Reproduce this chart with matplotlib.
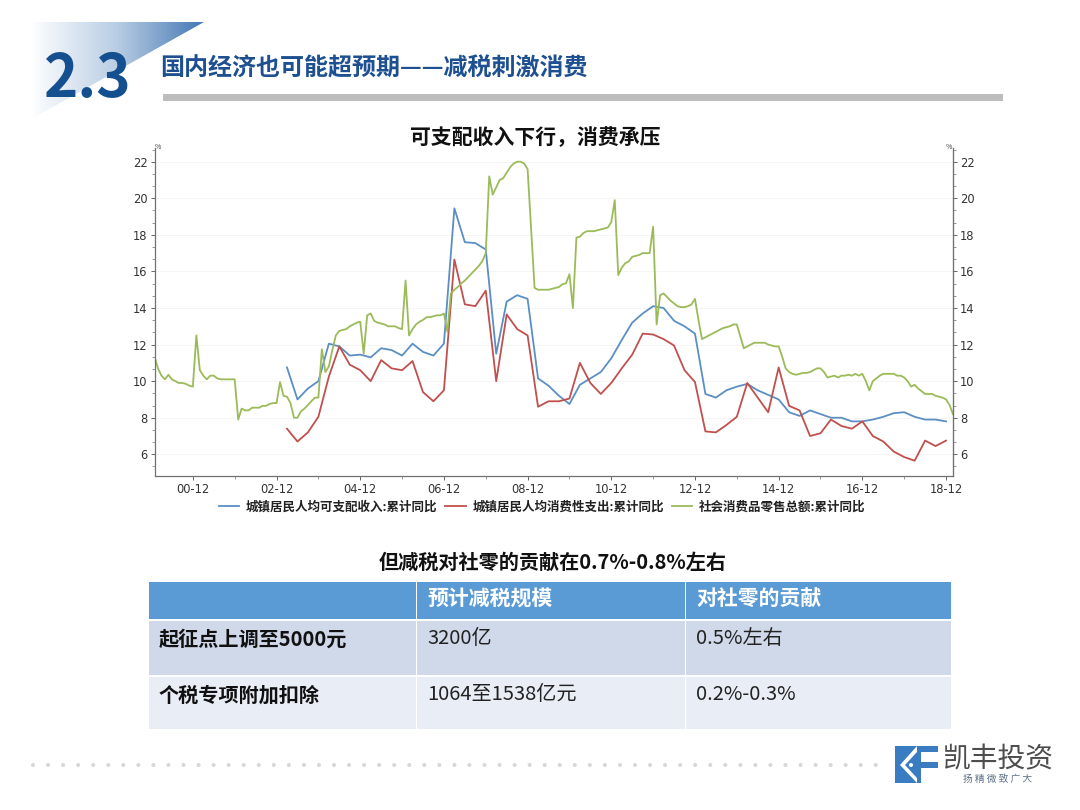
import numpy as np
import matplotlib
matplotlib.use("Agg")
import matplotlib.pyplot as plt
from matplotlib.patches import Polygon, Rectangle, Circle

plt.rcParams['font.family'] = ['Noto Sans CJK SC', 'DejaVu Sans']

# months counted from 2000-12, green is monthly, the other two quarterly
first_month = -11
retail = [
    11.34, 10.7, 10.3, 10.1, 10.35, 10.1, 10.0, 9.9, 9.9, 9.85, 9.75, 9.7,
    12.5, 10.6, 10.3, 10.1, 10.3, 10.3, 10.15, 10.1, 10.1, 10.1, 10.1, 10.1,
    7.9, 8.5, 8.4, 8.4, 8.55, 8.55, 8.55, 8.65, 8.65, 8.75, 8.8, 8.8,
    9.95, 9.2, 9.15, 8.8, 8.0, 8.0, 8.35, 8.5, 8.7, 8.9, 9.1, 9.1,
    11.75, 10.5, 10.8, 11.7, 12.5, 12.75, 12.8, 12.85, 13.0, 13.1, 13.2, 13.25,
    11.5, 13.6, 13.7, 13.3, 13.2, 13.15, 13.1, 13.0, 13.0, 13.0, 12.9, 12.85,
    15.5, 12.5, 12.85, 13.1, 13.25, 13.35, 13.5, 13.5, 13.55, 13.6, 13.6, 13.7,
    12.7, 14.8, 15.0, 15.15, 15.35, 15.5, 15.7, 15.9, 16.1, 16.3, 16.55, 17.0,
    21.2, 20.2, 20.6, 21.0, 21.1, 21.4, 21.7, 21.9, 22.0, 22.0, 21.9, 21.6,
    18.3, 15.1, 15.0, 15.0, 15.0, 15.0, 15.05, 15.1, 15.15, 15.3, 15.35, 15.85,
    14.0, 17.85, 17.9, 18.1, 18.2, 18.2, 18.2, 18.25, 18.3, 18.35, 18.4, 18.7,
    19.9, 15.8, 16.2, 16.45, 16.55, 16.8, 16.85, 16.9, 17.0, 17.0, 17.0, 18.45,
    13.1, 14.7, 14.8, 14.6, 14.4, 14.25, 14.1, 14.05, 14.05, 14.1, 14.2, 14.5,
    13.35, 12.3, 12.4, 12.5, 12.6, 12.7, 12.8, 12.9, 12.95, 13.0, 13.1, 13.1,
    12.45, 11.8, 11.9, 12.0, 12.1, 12.1, 12.1, 12.1, 12.0, 11.95, 11.9, 11.9,
    11.35, 10.7, 10.5, 10.4, 10.35, 10.4, 10.45, 10.45, 10.5, 10.6, 10.7, 10.7,
    10.5, 10.2, 10.25, 10.3, 10.2, 10.3, 10.3, 10.35, 10.3, 10.4, 10.3, 10.4,
    10.0, 9.5, 10.0, 10.15, 10.3, 10.4, 10.4, 10.4, 10.4, 10.3, 10.3, 10.2,
    10.0, 9.7, 9.8, 9.6, 9.45, 9.3, 9.3, 9.3, 9.2, 9.15, 9.1, 9.0,
    8.7, 8.2,
]
first_quarter = 27
income = [
    10.75, 9.0, 9.6, 10.0, 12.05, 11.9, 11.4, 11.45, 11.3, 11.8, 11.7, 11.4,
    12.05, 11.6, 11.4, 12.05, 19.45, 17.6, 17.55, 17.2, 11.5, 14.35, 14.7, 14.5,
    10.15, 9.75, 9.2, 8.75, 9.8, 10.15, 10.5, 11.25, 12.25, 13.2, 13.7, 14.1,
    14.0, 13.3, 13.0, 12.6, 9.3, 9.1, 9.5, 9.7, 9.85, 9.5, 9.25, 9.0,
    8.3, 8.1, 8.4, 8.2, 8.0, 8.0, 7.8, 7.8, 7.9, 8.05, 8.25, 8.3,
    8.05, 7.9, 7.9, 7.8,
]
spending = [
    7.4, 6.7, 7.2, 8.05, 10.25, 11.9, 10.9, 10.6, 10.0, 11.15, 10.7, 10.6,
    11.1, 9.4, 8.9, 9.5, 16.65, 14.2, 14.1, 14.95, 10.0, 13.65, 12.85, 12.5,
    8.6, 8.9, 8.9, 9.05, 11.0, 9.9, 9.3, 9.9, 10.7, 11.45, 12.6, 12.55,
    12.3, 11.95, 10.6, 9.95, 7.25, 7.2, 7.6, 8.05, 9.9, 9.1, 8.3, 10.75,
    8.65, 8.4, 7.0, 7.15, 7.9, 7.55, 7.4, 7.8, 7.0, 6.7, 6.15, 5.85,
    5.65, 6.75, 6.45, 6.75,
]
series_names = ['城镇居民人均可支配收入:累计同比', '城镇居民人均消费性支出:累计同比', '社会消费品零售总额:累计同比']
year_ticks = ['00-12', '02-12', '04-12', '06-12', '08-12', '10-12', '12-12', '14-12', '16-12', '18-12']
y_ticks = [6, 8, 10, 12, 14, 16, 18, 20, 22]

table_header = ['', '预计减税规模', '对社零的贡献']
table_row1 = ['起征点上调至5000元', '3200亿', '0.5%左右']
table_row2 = ['个税专项附加扣除', '1064至1538亿元', '0.2%-0.3%']

W, H = 1080, 810
fig = plt.figure(figsize=(W / 100, H / 100), dpi=100)

# whole slide in pixel coordinates
bg = fig.add_axes([0, 0, 1, 1])
bg.set_xlim(0, W)
bg.set_ylim(H, 0)
bg.axis('off')

# header triangle with gradient
grad = np.linspace(0, 1, 256).reshape(1, -1)
cmap = matplotlib.colors.LinearSegmentedColormap.from_list('tri', ['#ffffff', '#b9cde4', '#4478b4'])
im = bg.imshow(grad, extent=[30, 204, 120, 21], cmap=cmap, aspect='auto', zorder=1)
tri = Polygon([(33, 22), (204, 22), (33, 118)], closed=True, transform=bg.transData, fc='none', ec='none')
bg.add_patch(tri)
im.set_clip_path(tri)
bg.set_xlim(0, W)
bg.set_ylim(H, 0)

bg.text(88, 80, '2.3', fontsize=42, fontweight='bold', color='#14508f', ha='center', va='center', zorder=3)
bg.text(160, 69, '国内经济也可能超预期——减税刺激消费', fontsize=17.3, fontweight='bold', color='#1d4f91', va='center')
bg.add_patch(Rectangle((163, 94), 840, 7, fc='#bdbdbd', ec='none'))

bg.text(535, 138, '可支配收入下行，消费承压', fontsize=15, fontweight='bold', color='#111111', ha='center', va='center')
bg.text(553, 562, '但减税对社零的贡献在0.7%-0.8%左右', fontsize=14.5, fontweight='bold', color='#111111', ha='center', va='center')

# table
col_x = [149, 417, 686, 952]
rows = [(582, 619, '#5b9bd5', table_header), (621, 675, '#d0d9ea', table_row1), (677, 729, '#e9edf5', table_row2)]
for top, bottom, colour, cells in rows:
    for i in range(3):
        bg.add_patch(Rectangle((col_x[i], top), col_x[i + 1] - col_x[i] - 1.5, bottom - top, fc=colour, ec='none'))
        if cells is table_header:
            bg.text(col_x[i] + 10, 599, cells[i], fontsize=15, fontweight='bold', color='white', va='center')
        elif i == 0:
            bg.text(col_x[i] + 10, top + 18, cells[i], fontsize=14.5, fontweight='bold', color='#111111', va='center')
        else:
            bg.text(col_x[i] + 10, top + 18, cells[i], fontsize=14.5, color='#222222', va='center')

# dotted footer and logo
for dot_x in np.arange(33, 885, 15.05):
    bg.add_patch(Circle((dot_x, 765), 2, fc='#d4d8dc', ec='none'))
bg.add_patch(Polygon([(895, 746), (917, 746), (900, 765), (917, 783), (895, 783)], fc='#3a7cc2', ec='none'))
bg.add_patch(Polygon([(917, 746), (917, 783), (921, 783), (921, 746)], fc='#3a7cc2', ec='none'))
bg.add_patch(Polygon([(905, 765), (917, 752), (917, 778)], fc='#3a7cc2', ec='none'))
bg.add_patch(Circle((911, 765), 2, fc='white', ec='none'))
bg.add_patch(Rectangle((917, 746), 21, 6, fc='#3a7cc2', ec='none'))
bg.add_patch(Rectangle((921, 762), 17, 6, fc='#3a7cc2', ec='none'))
bg.text(998, 759, '凯丰投资', fontsize=20, color='#4d4d4d', ha='center', va='center')
bg.text(998, 779, '扬 精 微 致 广 大', fontsize=7, color='#5f7286', ha='center', va='center')

# chart
left, right, top, bottom = 154.5, 953, 148, 475.7
ax = fig.add_axes([left / W, 1 - bottom / H, (right - left) / W, (bottom - top) / H])
ax.patch.set_alpha(0)

months = np.arange(first_month, first_month + len(retail))
quarters = np.arange(first_quarter, first_quarter + 3 * len(income), 3)
l1, = ax.plot(quarters, income, color='#5b8fc4', lw=1.3)
l2, = ax.plot(quarters, spending, color='#c0504d', lw=1.3)
l3, = ax.plot(months, retail, color='#9bbb59', lw=1.3)

ax.set_xlim(-11, 218)
ax.set_ylim(4.83, 22.75)
ax.set_xticks(np.arange(0, 217, 24))
ax.set_xticklabels(year_ticks, fontsize=8.3, color='#333333', family='DejaVu Sans')
ax.set_xticks(np.arange(12, 217, 24), minor=True)
ax.set_yticks(y_ticks)
ax.set_yticklabels(y_ticks, fontsize=8.3, color='#333333', family='DejaVu Sans')
ax.set_yticks(np.arange(5 + 1 / 3, 22.7, 2 / 3), minor=True)
ax.grid(axis='y', color='#f5f5f5', lw=0.7)
ax.set_axisbelow(True)
ax.tick_params(axis='both', which='major', length=3, width=0.7, color='#666666', pad=2)
ax.tick_params(axis='both', which='minor', length=2, width=0.6, color='#888888')
for side in ['top']:
    ax.spines[side].set_visible(False)
for side in ['left', 'bottom', 'right']:
    ax.spines[side].set_color('#707070')
    ax.spines[side].set_linewidth(0.9)

ax_r = ax.twinx()
ax_r.patch.set_alpha(0)
ax_r.set_ylim(ax.get_ylim())
ax_r.set_yticks(y_ticks)
ax_r.set_yticklabels(y_ticks, fontsize=8.3, color='#333333', family='DejaVu Sans')
ax_r.set_yticks(np.arange(5 + 1 / 3, 22.7, 2 / 3), minor=True)
ax_r.tick_params(axis='y', which='major', length=3, width=0.7, color='#666666', pad=2)
ax_r.tick_params(axis='y', which='minor', length=2, width=0.6, color='#888888')
ax_r.spines['top'].set_visible(False)
ax_r.spines['right'].set_color('#707070')
ax_r.spines['left'].set_visible(False)
ax_r.spines['bottom'].set_visible(False)

bg.text(158, 147, '%', fontsize=5, color='#444444', ha='center', va='center')
bg.text(949, 147, '%', fontsize=5, color='#444444', ha='center', va='center')

leg = fig.legend([l1, l2, l3], series_names, ncol=3, frameon=False, loc='center',
                 bbox_to_anchor=(542 / W, 1 - 507 / H), handlelength=1.65, handletextpad=0.55,
                 columnspacing=0.6, borderpad=0, prop={'size': 9, 'weight': 'bold'})
for text in leg.get_texts():
    text.set_color('#222222')

fig.savefig('out.png', dpi=100)
